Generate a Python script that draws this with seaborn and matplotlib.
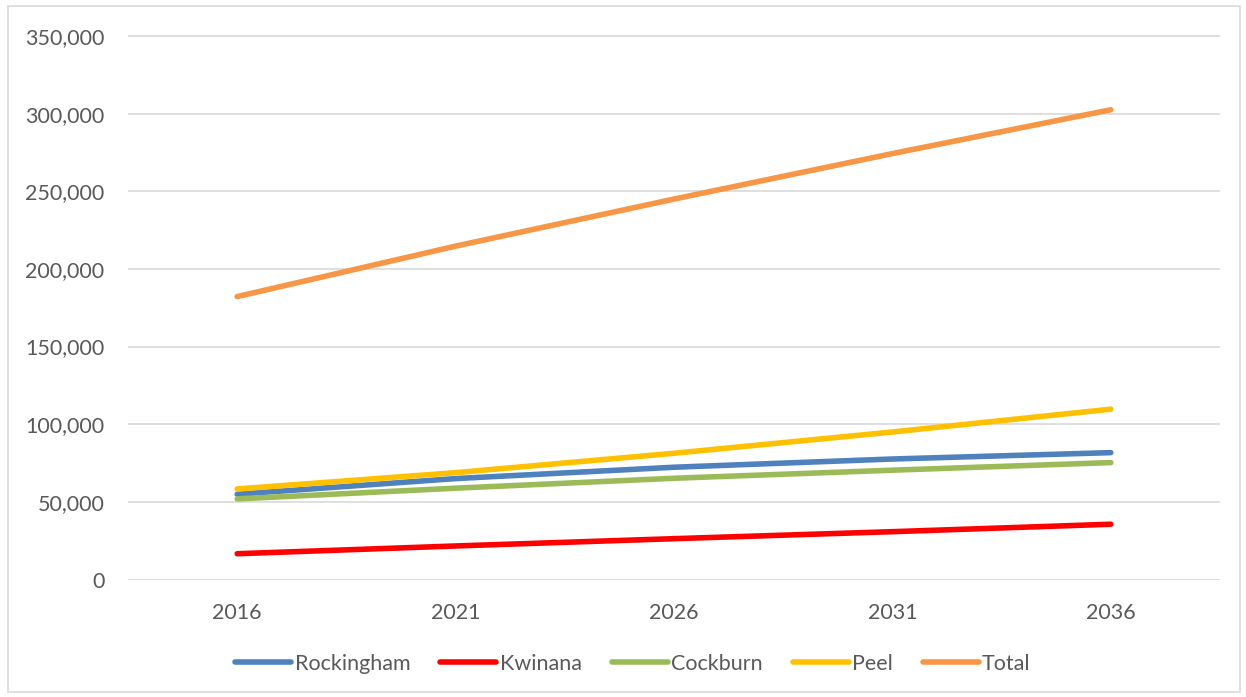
import pandas as pd
import matplotlib
matplotlib.use("Agg")
import matplotlib.pyplot as plt
import seaborn as sns
from matplotlib.ticker import FuncFormatter
from matplotlib.patches import Rectangle

# values
years = ["2016", "2021", "2026", "2031", "2036"]
rockingham = [54900, 65000, 72300, 77600, 81700]
kwinana = [16600, 21600, 26300, 30800, 35600]
cockburn = [51900, 58800, 65200, 70400, 75300]
peel = [58300, 68800, 81300, 95000, 109700]
total = [182200, 214700, 245000, 274300, 302500]

series = ["Rockingham", "Kwinana", "Cockburn", "Peel", "Total"]
colors = ["#4F81BD", "#FF0000", "#9BBB59", "#FFC000", "#F79646"]

df = pd.DataFrame({
    "Year": years * 5,
    "Population": rockingham + kwinana + cockburn + peel + total,
    "Area": [s for s in series for _ in years],
})

sns.set_style("white")
plt.rcParams["font.family"] = ["Lato", "DejaVu Sans"]

W, H = 1246, 697
fig = plt.figure(figsize=(W / 100, H / 100), dpi=100)
ax = fig.add_axes([128 / W, 1 - 579.5 / H, (1220 - 128) / W, (579.5 - 34) / H])

sns.lineplot(data=df, x="Year", y="Population", hue="Area", hue_order=series,
             palette=colors, linewidth=4, solid_capstyle="round", ax=ax, sort=False)

ax.set_xlim(-0.5, 4.5)
ax.set_ylim(0, 351300)
ax.set_yticks(range(0, 350001, 50000))
ax.yaxis.set_major_formatter(FuncFormatter(lambda v, p: f"{int(v):,}"))
ax.grid(axis="y", color="#D9D9D9", linewidth=1.2)
ax.set_axisbelow(True)
for s in ax.spines.values():
    s.set_visible(False)
ax.set_xlabel("")
ax.set_ylabel("")
ax.tick_params(axis="y", length=0, pad=17, labelsize=15.5, labelcolor="#595959")
ax.tick_params(axis="x", length=0, pad=17, labelsize=15.5, labelcolor="#595959")

handles, labels = ax.get_legend_handles_labels()
ax.legend(handles, labels, ncol=5, loc="center", bbox_to_anchor=(633 / W, 1 - 664 / H),
          bbox_transform=fig.transFigure, frameon=False, fontsize=15.5,
          handlelength=2.6, handletextpad=0.15, columnspacing=1.4, labelcolor="#595959")

fig.patches.append(Rectangle((8 / W, 5 / H), (1240 - 8) / W, (691 - 5) / H,
                             transform=fig.transFigure, fill=False,
                             edgecolor="#D9D9D9", linewidth=1.2))

fig.savefig("out.png", dpi=100)
